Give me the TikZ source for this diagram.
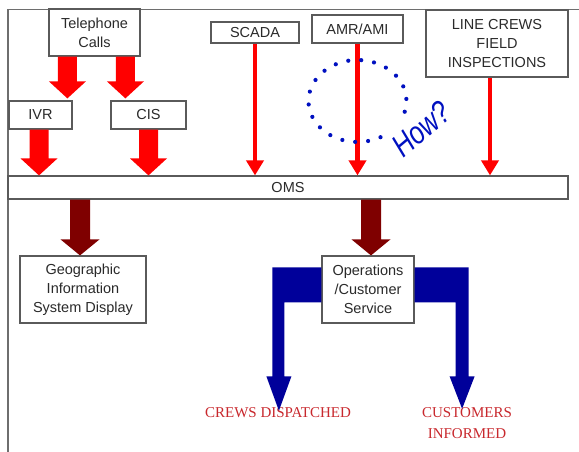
\documentclass[tikz,border=0pt]{standalone}
\usepackage{fontspec}
\setmainfont{Liberation Sans}
\newfontfamily\labelserif{Liberation Serif}
\usetikzlibrary{arrows.meta,calc}

\definecolor{boxline}{HTML}{5A5A5A}
\definecolor{boxtext}{HTML}{2A2A2A}
\definecolor{framegray}{HTML}{6E6E6E}
\definecolor{arrred}{HTML}{FF0000}
\definecolor{arrdark}{HTML}{7F0000}
\definecolor{arrblue}{HTML}{00009A}
\definecolor{labred}{HTML}{C8282D}
\definecolor{inkblue}{HTML}{0010C0}

% vertical block arrow: shaft from the y of #1 down to the tip #2
% #3 half shaft width, #4 half head width, #5 head length, #6 colour
\newcommand{\fatdown}[6]{%
  \fill[#6] let \p1=#1, \p2=#2 in
    (\x2-#3,\y1) -- (\x2+#3,\y1) -- (\x2+#3,\y2+#5) -- (\x2+#4,\y2+#5)
    -- (\x2,\y2) -- (\x2-#4,\y2+#5) -- (\x2-#3,\y2+#5) -- cycle;}

\begin{document}
\begin{tikzpicture}[x=1pt,y=-1pt,
  box/.style={draw=boxline,line width=1.2pt,fill=white,inner sep=0pt,
    align=center,text=boxtext,font=\fontsize{14.5}{19}\selectfont},
  thinarrow/.style={draw=arrred,line width=4.5pt,
    -{Triangle[length=15pt,width=17pt]}},
  outcome/.style={text=labred,align=center,inner sep=0pt,
    font=\labelserif\fontsize{15}{21}\selectfont},
]
\useasboundingbox (0,0) rectangle (579,452);

% outer frame
\draw[framegray,line width=1.5pt] (579,9.5) -- (8,9.5) -- (8,452);

% source boxes
\node[box,minimum width=91pt,minimum height=47pt] (tel) at (94.5,32.5) {Telephone\\Calls};
\node[box,minimum width=63pt,minimum height=28pt] (ivr) at (40.5,115) {IVR};
\node[box,minimum width=75pt,minimum height=28pt] (cis) at (148.5,115) {CIS};
\node[box,minimum width=88pt,minimum height=21pt] (scada) at (255,32.5) {SCADA};
\node[box,minimum width=91pt,minimum height=28pt] (amr) at (357.5,29) {AMR/AMI};
\node[box,minimum width=142pt,minimum height=67pt] (crews) at (497,43.5) {LINE CREWS\\FIELD\\INSPECTIONS};

% central system
\node[box,minimum width=560pt,minimum height=23pt] (oms) at (288,187.5) {};
\node[text=boxtext,font=\fontsize{14.5}{19}\selectfont] at (oms.center) {OMS};

% downstream boxes
\node[box,minimum width=126pt,minimum height=67pt] (geo) at (83,289.5) {Geographic\\Information\\System Display};
\node[box,minimum width=92pt,minimum height=67pt] (ops) at (368,289.5) {Operations\\/Customer\\Service};

% outcomes
\node[outcome] (disp) at (278,413) {CREWS DISPATCHED};
\node[outcome] (inf) at (467,423.5) {CUSTOMERS\\INFORMED};

% telephone calls split to IVR and CIS
\coordinate (t1) at ($(tel.south west)+(19,0)$);
\coordinate (t2) at ($(tel.south west)+(77,0)$);
\fatdown{(t1)}{($(t1 |- ivr.north)+(0,-2)$)}{9.5pt}{18.5pt}{17pt}{arrred}
\fatdown{(t2)}{($(t2 |- cis.north)+(0,-2)$)}{9.5pt}{18.5pt}{17pt}{arrred}

% IVR and CIS into OMS
\coordinate (i1) at ($(ivr.south)+(-1.5,0)$);
\fatdown{(i1)}{(i1 |- oms.north)}{9.5pt}{18.5pt}{17pt}{arrred}
\fatdown{(cis.south)}{(cis.south |- oms.north)}{9.5pt}{18.5pt}{17pt}{arrred}

% direct feeds into OMS
\draw[thinarrow] (scada.south) -- (scada.south |- oms.north);
\draw[thinarrow] (amr.south) -- (amr.south |- oms.north);
\coordinate (c1) at ($(crews.south)+(-7,0)$);
\draw[thinarrow] (c1) -- (c1 |- oms.north);

% OMS outputs
\coordinate (o1) at (oms.south -| geo.north);
\coordinate (o2) at (oms.south -| ops.north);
\fatdown{($(o1)+(-3,0)$)}{($(geo.north)+(-3,0)$)}{10pt}{19.5pt}{16pt}{arrdark}
\fatdown{($(o2)+(3,0)$)}{($(ops.north)+(3,0)$)}{10pt}{19.5pt}{16pt}{arrdark}

% operations branch to field crews and customers
\fill[arrblue] (ops.north west) ++(0,12) -- ++(-49,0) -- ++(0,109) -- ++(-6,0)
  -- ($(disp.north -| ops.north west)+(-42.5,3)$)
  -- ($(ops.north west)+(-30,121)$) -- ($(ops.north west)+(-37,121)$)
  -- ($(ops.north west)+(-37,47)$) -- ($(ops.north west)+(0,47)$) -- cycle;
\fill[arrblue] (ops.north east) ++(0,12) -- ++(54,0) -- ++(0,109) -- ++(6,0)
  -- ($(inf.north -| ops.north east)+(47.5,1)$)
  -- ($(ops.north east)+(35,121)$) -- ($(ops.north east)+(41,121)$)
  -- ($(ops.north east)+(41,47)$) -- ($(ops.north east)+(0,47)$) -- cycle;

% hand-drawn query around the meter feed
\draw[inkblue,line width=4.2pt,line cap=round,dash pattern=on 0pt off 13pt]
  (357.5,101) ++(62:49 and 41) arc[start angle=62,end angle=392,x radius=49,y radius=41];
\node[text=inkblue,rotate=40,xscale=0.8,font=\fontsize{32}{32}\selectfont\itshape] (how) at (421,129) {How?};
\end{tikzpicture}
\end{document}
